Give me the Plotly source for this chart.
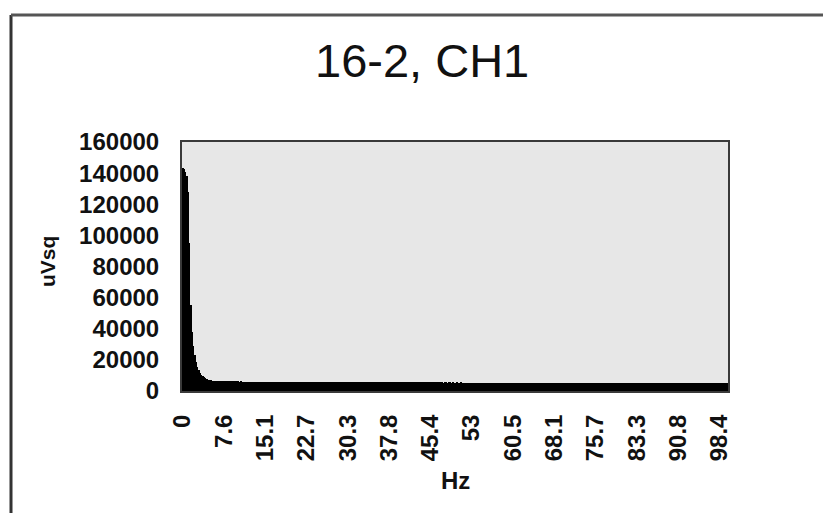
import plotly.graph_objects as go

# ---- data ----
TITLE = "16-2, CH1"
X_TITLE = "Hz"
Y_TITLE = "uVsq"

# power per frequency bin (bin width ~0.244 Hz), 410 bins 0..~99.8 Hz
power_low = [143000, 142500, 141000, 138000, 128000, 95000, 55000, 38000,
             29000, 23000, 18500, 15500, 13500, 11800, 10500, 9500,
             8800, 8200, 7700, 7300, 7000, 6800, 6600, 6500]
power_floor = [
    6450, 6400, 6380, 6350, 6300, 6320, 6280, 6250, 6270, 6230, 6200, 6220, 6190, 6160, 6180, 6150, 6130, 6150, 6120, 6100,
    6110, 6090, 6070, 6080, 6060, 6040, 6050, 6030, 6010, 6020, 6000, 5990, 6010, 5980, 5970, 5990, 5960, 5950, 5970, 5940,
    5950, 5930, 5920, 5940, 5910, 5900, 5920, 5890, 5880, 5900, 5870, 5880, 5860, 5870, 5850, 5840, 5860, 5830, 5840, 5820,
    5830, 5810, 5820, 5800, 5810, 5790, 5800, 5780, 5790, 5770, 5780, 5760, 5770, 5750, 5760, 5740, 5750, 5730, 5740, 5720,
    5730, 5710, 5720, 5700, 5715, 5695, 5705, 5690, 5700, 5680, 5690, 5675, 5685, 5670, 5680, 5660, 5675, 5655, 5665, 5650,
    5660, 5645, 5655, 5640, 5650, 5630, 5645, 5625, 5635, 5620, 5630, 5615, 5625, 5610, 5620, 5600, 5615, 5595, 5605, 5590,
    5600, 5585, 5595, 5580, 5590, 5575, 5585, 5570, 5580, 5565, 5575, 5560, 5570, 5555, 5565, 5550, 5560, 5545, 5555, 5540,
    5550, 5535, 5545, 5530, 5540, 5525, 5535, 5520, 5530, 5515, 5525, 5510, 5520, 5505, 5515, 5500, 5510, 5495, 5505, 5490,
    5500, 5485, 5495, 5480, 5510, 5490, 5475, 5500, 5485, 5470, 5495, 5480, 5465, 5490, 5475, 5460, 5485, 5470, 5455, 5480,
    5465, 5450, 5475, 5460, 5445, 5470, 5455, 5440, 5465, 5450, 5435, 5460, 5445, 5430, 5455, 5440, 5425, 5450, 5435, 5420,
    5445, 5430, 5415, 5440, 5425, 5410, 5435, 5420, 5405, 5430, 5415, 5400, 5425, 5410, 5395, 5420, 5405, 5390, 5415, 5400,
    5385, 5410, 5395, 5380, 5405, 5390, 5375, 5400, 5385, 5370, 5395, 5380, 5365, 5390, 5375, 5360, 5385, 5370, 5355, 5380,
    5365, 5350, 5375, 5360, 5345, 5370, 5355, 5340, 5365, 5350, 5335, 5360, 5345, 5330, 5355, 5340, 5325, 5350, 5335, 5320,
    5345, 5330, 5315, 5340, 5325, 5310, 5335, 5320, 5305, 5330, 5315, 5300, 5325, 5310, 5295, 5320, 5305, 5290, 5315, 5300,
    5285, 5310, 5295, 5280, 5305, 5290, 5275, 5300, 5285, 5270, 5295, 5280, 5265, 5290, 5275, 5260, 5285, 5270, 5255, 5280,
    5265, 5250, 5275, 5260, 5245, 5270, 5255, 5240, 5265, 5250, 5235, 5260, 5245, 5230, 5255, 5240, 5225, 5250, 5235, 5220,
    5245, 5230, 5215, 5240, 5225, 5210, 5235, 5220, 5205, 5230, 5215, 5200, 5225, 5210, 5195, 5220, 5205, 5190, 5215, 5200,
    5185, 5210, 5195, 5180, 5205, 5190, 5175, 5200, 5185, 5170, 5195, 5180, 5165, 5190, 5175, 5160, 5185, 5170, 5155, 5180,
    5165, 5150, 5175, 5160, 5145, 5170, 5155, 5140, 5165, 5150, 5135, 5160, 5145, 5130, 5155, 5140, 5125, 5150, 5135, 5120,
    5145, 5130, 5115, 5140, 5125, 5110,
]
power = power_low + power_floor
bins = list(range(len(power)))

tick_bins = [0, 31, 62, 93, 124, 155, 186, 217, 248, 279, 310, 341, 372, 403]
tick_labels = ["0", "7.6", "15.1", "22.7", "30.3", "37.8", "45.4", "53",
               "60.5", "68.1", "75.7", "83.3", "90.8", "98.4"]
y_ticks = [0, 20000, 40000, 60000, 80000, 100000, 120000, 140000, 160000]

# ---- layout geometry (page pixels; page body has an 8px margin) ----
OFF = 8
W, H = 831 - OFF, 513 - OFF
PL, PR, PT, PB = 182, 728, 142, 391          # plot area in page pixels
pw, ph = PR - PL, PB - PT


def px(x):
    return (x - PL) / pw


def py(y):
    return (PB - y) / ph


FONT = "Liberation Sans, Arial, sans-serif"
INK = "#111111"

fig = go.Figure()
fig.add_trace(go.Bar(
    x=bins, y=power,
    marker=dict(color="#000000", line=dict(width=0)),
    width=1.3,
    hoverinfo="skip",
))

fig.update_layout(
    width=W, height=H,
    margin=dict(l=PL - OFF, r=W - (PR - OFF), t=PT - OFF, b=H - (PB - OFF), pad=0),
    paper_bgcolor="#ffffff",
    plot_bgcolor="#e7e7e7",
    bargap=0,
    showlegend=False,
    font=dict(family=FONT, color=INK),
    xaxis=dict(
        type="linear",
        range=[-0.5, len(power) - 0.5],
        tickmode="array", tickvals=tick_bins, ticktext=tick_labels,
        tickangle=-90,
        tickfont=dict(size=24, family=FONT, weight="bold", color=INK),
        ticklabelstandoff=12,
        showgrid=False, zeroline=False,
        showline=True, linecolor="#3a3a3a", linewidth=2, mirror=True,
        ticks="", ticklen=0,
    ),
    yaxis=dict(
        range=[0, 160000],
        tickmode="array", tickvals=y_ticks,
        ticktext=[str(v) for v in y_ticks],
        tickfont=dict(size=24, family=FONT, weight="bold", color=INK),
        ticklabelstandoff=16,
        showgrid=False, zeroline=False,
        showline=True, linecolor="#3a3a3a", linewidth=2, mirror=True,
        ticks="", ticklen=0,
    ),
    annotations=[
        dict(text=TITLE, xref="paper", yref="paper", x=px(422), y=py(61),
             xanchor="center", yanchor="middle", showarrow=False,
             font=dict(size=47, family=FONT, color=INK)),
        dict(text=X_TITLE, xref="paper", yref="paper", x=px(455), y=py(480),
             xanchor="center", yanchor="middle", showarrow=False,
             font=dict(size=24, family=FONT, weight="bold", color=INK)),
        dict(text=Y_TITLE, xref="paper", yref="paper", x=px(47), y=py(262),
             xanchor="center", yanchor="middle", showarrow=False, textangle=-90,
             font=dict(size=21, family=FONT, weight="bold", color=INK)),
    ],
    shapes=[
        dict(type="line", xref="paper", yref="paper",
             x0=px(11), x1=px(11), y0=py(15), y1=py(520),
             line=dict(color="#333333", width=3)),
        dict(type="line", xref="paper", yref="paper",
             x0=px(11), x1=px(840), y0=py(15), y1=py(15),
             line=dict(color="#555555", width=3)),
    ],
)

fig.write_html("out.html")
